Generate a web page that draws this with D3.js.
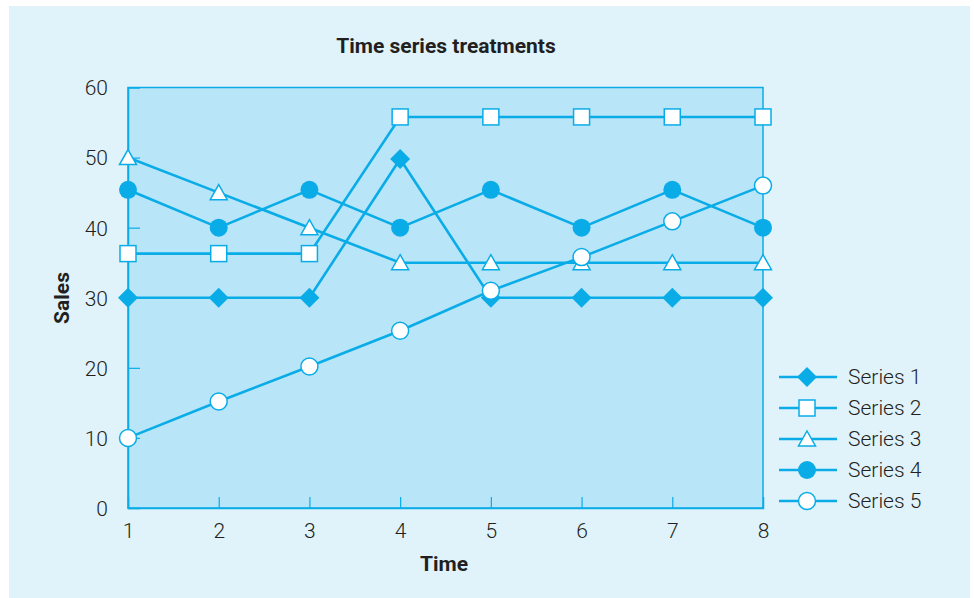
<!DOCTYPE html>
<html><head><meta charset="utf-8">
<script src="https://cdn.jsdelivr.net/npm/d3@7"></script>
<style>body{margin:0;background:#fff}svg{display:block}text{font-family:Roboto,"DejaVu Sans",sans-serif}</style>
</head><body>
<svg id="c" width="974" height="598"></svg>
<script>
const times = [1,2,3,4,5,6,7,8];
const series1 = [30,30,30,49.8,30,30,30,30];
const series2 = [36.3,36.3,36.3,55.8,55.8,55.8,55.8,55.8];
const series3 = [50,45,40,35,35,35,35,35];
const series4 = [45.4,40,45.4,40,45.4,40,45.4,40];
const series5 = [10,15.2,20.2,25.3,31,35.8,40.9,46];
const seriesNames = ["Series 1","Series 2","Series 3","Series 4","Series 5"];
const markerTypes = ["diamond","square","triangle","dot","circle"];
const yTicks = [0,10,20,30,40,50,60];
const allSeries = [series1,series2,series3,series4,series5];

const C = "#0aace8", FILL = "#b9e5f8", BG = "#e0f3fb", TXT = "#231f20";
const svg = d3.select("#c");
svg.append("rect").attr("x",9).attr("y",6).attr("width",961).attr("height",592).attr("fill",BG);

const x = d3.scaleLinear().domain([1,8]).range([128,763]);
const y = d3.scaleLinear().domain([0,60]).range([508,87.5]);

svg.append("rect").attr("x",x(1)).attr("y",y(60)).attr("width",x(8)-x(1)).attr("height",y(0)-y(60))
  .attr("fill",FILL).attr("stroke",C).attr("stroke-width",1.5);

const ya = svg.append("g").attr("transform",`translate(${x(1)},0)`)
  .call(d3.axisLeft(y).tickValues(yTicks).tickFormat(d3.format("d")).tickSize(-12));
const xa = svg.append("g").attr("transform",`translate(0,${y(0)})`)
  .call(d3.axisBottom(x).tickValues(times).tickFormat(d3.format("d")).tickSize(-11));
[ya,xa].forEach(a=>{
  a.select(".domain").attr("stroke",C).attr("stroke-width",1.5);
  a.selectAll(".tick line").attr("stroke",C).attr("stroke-width",1.2);
  a.selectAll(".tick text").attr("fill",TXT).attr("font-size",21).attr("font-weight",300);
});
ya.selectAll(".tick text").attr("dy","0.35em").attr("x",-20).attr("text-anchor","end");
xa.selectAll(".tick text").attr("dy","0").attr("y",30);
ya.selectAll(".tick").filter(d=>d===0||d===60).select("line").remove();
xa.selectAll(".tick").filter(d=>d===1||d===8).select("line").remove();

svg.append("text").attr("x",446).attr("y",53).attr("text-anchor","middle")
  .attr("font-size",21).attr("font-weight","bold").attr("fill",TXT).text("Time series treatments");
svg.append("text").attr("x",444).attr("y",571).attr("text-anchor","middle")
  .attr("font-size",21).attr("font-weight","bold").attr("fill",TXT).text("Time");
svg.append("text").attr("transform","translate(69,298) rotate(-90)").attr("text-anchor","middle")
  .attr("font-size",21).attr("font-weight","bold").attr("fill",TXT).text("Sales");

function marker(g, type, cx, cy){
  if(type==="diamond"){
    g.append("path").attr("d",`M${cx},${cy-10}L${cx+10},${cy}L${cx},${cy+10}L${cx-10},${cy}Z`).attr("fill",C);
  } else if(type==="square"){
    g.append("rect").attr("x",cx-8).attr("y",cy-8).attr("width",16).attr("height",16)
      .attr("fill","#fff").attr("stroke",C).attr("stroke-width",1.5);
  } else if(type==="triangle"){
    g.append("path").attr("d",`M${cx},${cy-8}L${cx+8.5},${cy+7}L${cx-8.5},${cy+7}Z`)
      .attr("fill","#fff").attr("stroke",C).attr("stroke-width",1.5);
  } else if(type==="dot"){
    g.append("circle").attr("cx",cx).attr("cy",cy).attr("r",9).attr("fill",C);
  } else {
    g.append("circle").attr("cx",cx).attr("cy",cy).attr("r",8.5).attr("fill","#fff").attr("stroke",C).attr("stroke-width",1.5);
  }
}

const line = d3.line().x((d,i)=>x(times[i])).y(d=>y(d));
allSeries.forEach((s,k)=>{
  const g = svg.append("g");
  g.append("path").attr("d",line(s)).attr("fill","none").attr("stroke",C).attr("stroke-width",2.6);
  s.forEach((v,i)=>marker(g, markerTypes[k], x(times[i]), y(v)));
});

const leg = d3.scalePoint().domain(seriesNames).range([377,501]);
seriesNames.forEach((n,k)=>{
  const g = svg.append("g"), ly = leg(n);
  g.append("line").attr("x1",779).attr("x2",837).attr("y1",ly).attr("y2",ly).attr("stroke",C).attr("stroke-width",2.6);
  marker(g, markerTypes[k], 807, ly);
  g.append("text").attr("x",848).attr("y",ly).attr("dy","0.35em").attr("font-size",21).attr("font-weight",300).attr("fill",TXT).text(n);
});
</script>
</body></html>
